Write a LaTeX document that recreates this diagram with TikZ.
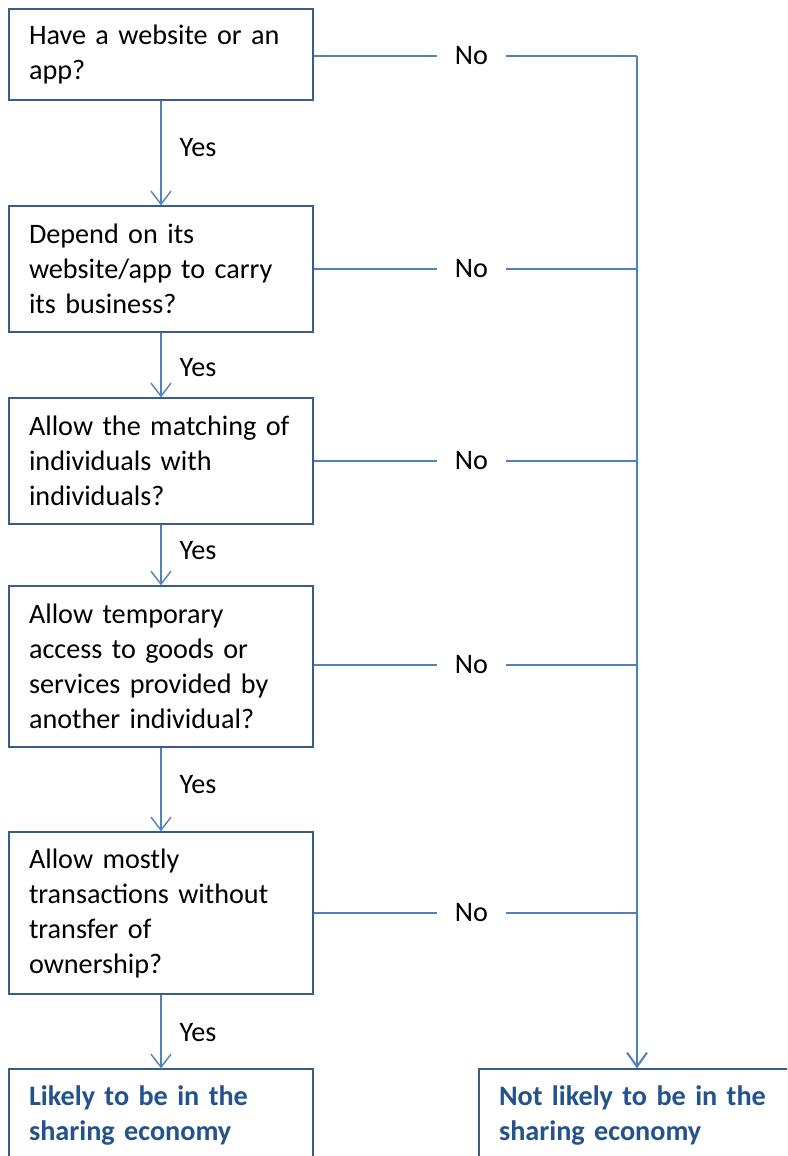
\documentclass[tikz,border=0pt]{standalone}
\usepackage{fontspec}
\setmainfont{Carlito}
\usetikzlibrary{arrows.meta}
\definecolor{linec}{HTML}{4F81BD}
\definecolor{boxc}{HTML}{385D8A}
\definecolor{endc}{HTML}{24528C}
\tikzset{
  qbox/.style={draw=boxc, line width=1.4pt, fill=white, inner xsep=20pt, inner ysep=0pt,
    text width=264pt, align=left, minimum height=#1, anchor=center,
    font=\fontsize{28.2}{35}\selectfont},
  endbox/.style={qbox=#1, text=endc, font=\fontsize{28.2}{35}\selectfont\bfseries},
  flow/.style={draw=linec, line width=1.4pt},
  arr/.style={flow, -{Straight Barb[length=13pt,width=20pt,line width=1.4pt]}},
  yeslab/.style={anchor=west, inner sep=0pt, xshift=18pt, font=\fontsize{28.2}{35}\selectfont},
  nolab/.style={fill=white, inner xsep=18pt, inner ysep=2pt, font=\fontsize{28.2}{35}\selectfont}
}
\begin{document}
\begin{tikzpicture}[x=1pt,y=-1pt]
\useasboundingbox (0,0) rectangle (787,1156);
\clip (0,0) rectangle (787,1156);
\node[qbox=91pt] (b1) at (161,54.5) {Have a website or an\\app?};
\node[qbox=126pt] (b2) at (161,269) {Depend on its\\website/app to carry\\its business?};
\node[qbox=126pt] (b3) at (161,461) {Allow the matching of\\individuals with\\individuals?};
\node[qbox=161pt] (b4) at (161,666.5) {Allow temporary\\access to goods or\\services provided by\\another individual?};
\node[qbox=162pt] (b5) at (161,913) {Allow mostly\\transactions without\\transfer of\\ownership?};
\node[endbox=92pt] (b6) at (161,1115) {Likely to be in the\\sharing economy};
\node[endbox=92pt, text width=276pt] (b7) at (637,1115) {Not likely to be in the\\sharing economy};

\coordinate (j1) at (637,56);
\coordinate (j2) at (637,269);
\coordinate (j3) at (637,461);
\coordinate (j4) at (637,665);
\coordinate (j5) at (637,913);

\draw[arr] (b1.south) -- node[yeslab, pos=0.45] {Yes} (b2.north);
\draw[arr] (b2.south) -- node[yeslab, pos=0.545] {Yes} (b3.north);
\draw[arr] (b3.south) -- node[yeslab, pos=0.42] {Yes} (b4.north);
\draw[arr] (b4.south) -- node[yeslab, pos=0.435] {Yes} (b5.north);
\draw[arr] (b5.south) -- node[yeslab, pos=0.52] {Yes} (b6.north);

\draw[flow] (b1.east |- j1) -- node[nolab, pos=0.488] {No} (j1);
\draw[flow] (b2.east) -- node[nolab, pos=0.488] {No} (j2);
\draw[flow] (b3.east) -- node[nolab, pos=0.488] {No} (j3);
\draw[flow] (b4.east |- j4) -- node[nolab, pos=0.488] {No} (j4);
\draw[flow] (b5.east) -- node[nolab, pos=0.488] {No} (j5);

\draw[flow, line width=2pt, -{Straight Barb[length=14pt,width=20pt,line width=2pt]}] (j1) -- (b7.north);
\end{tikzpicture}
\end{document}
